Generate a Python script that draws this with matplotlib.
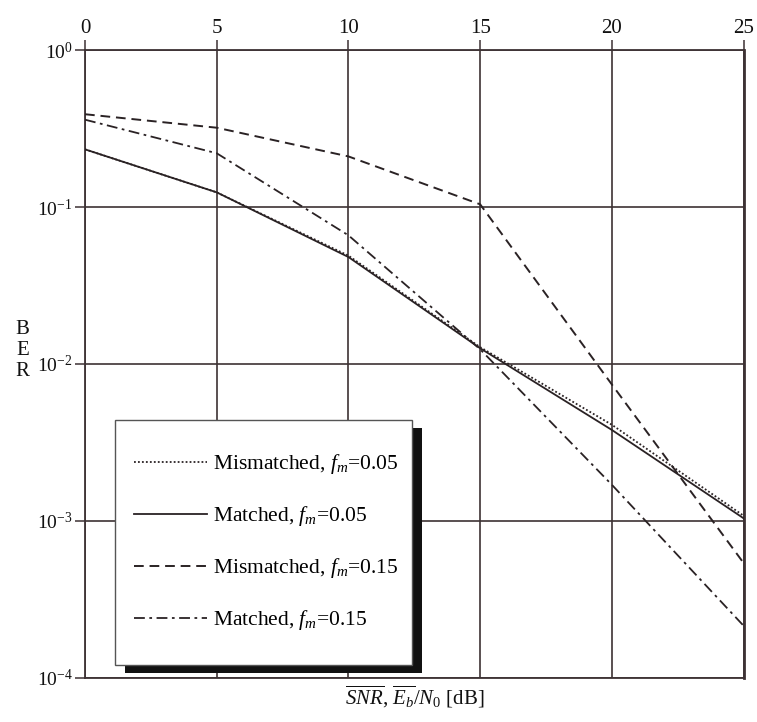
import matplotlib
matplotlib.use("Agg")
import matplotlib.pyplot as plt
from matplotlib.patches import Rectangle

plt.rcParams["font.family"] = ["Liberation Serif", "DejaVu Serif"]
plt.rcParams["mathtext.fontset"] = "custom"
plt.rcParams["mathtext.rm"] = "Liberation Serif"
plt.rcParams["mathtext.it"] = "Liberation Serif:italic"
plt.rcParams["mathtext.bf"] = "Liberation Serif:bold"

# SNR / Eb/N0 in dB
snr_db = [0, 5, 10, 15, 20, 25]

# BER curves
ber_mismatched_005 = [0.233, 0.124, 0.049, 0.0128, 0.0041, 0.00108]
ber_matched_005 = [0.233, 0.124, 0.048, 0.0126, 0.0038, 0.00104]
ber_mismatched_015 = [0.39, 0.32, 0.21, 0.104, 0.0074, 0.00054]
ber_matched_015 = [0.36, 0.22, 0.066, 0.0124, 0.0017, 0.000215]

labels = [
    r"Mismatched, $f_m$=0.05",
    r"Matched, $f_m$=0.05",
    r"Mismatched, $f_m$=0.15",
    r"Matched, $f_m$=0.15",
]

x_ticks = [0, 5, 10, 15, 20, 25]
y_ticks = [1e-4, 1e-3, 1e-2, 1e-1, 1e0]

ink = "#2a2224"
grid_col = "#3d3234"

fig = plt.figure(figsize=(7.57, 7.22), dpi=100)
ax = fig.add_axes([0.1123, 0.061, 0.870, 0.8697])

ax.set_yscale("log")
ax.set_xlim(0, 25)
ax.set_ylim(1e-4, 1e0)

styles = [
    dict(linestyle=(0, (1, 1.2)), lw=1.3),
    dict(linestyle="-", lw=1.3),
    dict(linestyle=(0, (5, 3)), lw=1.4),
    dict(linestyle=(0, (6, 2.5, 1.5, 2.5)), lw=1.3),
]
series = [ber_mismatched_005, ber_matched_005, ber_mismatched_015, ber_matched_015]

handles = []
for ys, st, lab in zip(series, styles, labels):
    ln, = ax.plot(snr_db, ys, color=ink, label=lab, zorder=3, **st)
    handles.append(ln)

ax.set_xticks(x_ticks)
ax.set_yticks(y_ticks)
ax.minorticks_off()
ax.xaxis.tick_top()
ax.tick_params(axis="both", direction="out", length=7, width=1.1,
               color=grid_col, labelsize=14, labelcolor="#111111", pad=2)
ax.tick_params(axis="x", labelsize=15)
ax.grid(True, which="major", color=grid_col, lw=1.2)
for s in ax.spines.values():
    s.set_color(grid_col)
    s.set_linewidth(1.3)
ax.spines["right"].set_linewidth(2.0)

ax.xaxis.set_label_position("bottom")
ax.set_xlabel(r"$\overline{SNR}$, $\overline{E_b}/N_0$ [dB]", fontsize=15,
              labelpad=4, color="#111111")

fig.text(0.03, 0.515, "B\nE\nR", fontsize=15, ha="center", va="center",
         linespacing=1.15, color="#111111")

# Legend box with a heavy drop shadow
bx0, bx1 = 0.045, 0.496
by0, by1 = 0.021, 0.411
sh = Rectangle((bx0 + 0.016, by0 - 0.013), bx1 - bx0, by1 - by0,
               transform=ax.transAxes, facecolor="#111111", edgecolor="none",
               zorder=5)
box = Rectangle((bx0, by0), bx1 - bx0, by1 - by0, transform=ax.transAxes,
                facecolor="white", edgecolor="#555555", lw=1.0, zorder=6)
ax.add_patch(sh)
ax.add_patch(box)

leg = ax.legend(handles=handles, loc="center left",
                bbox_to_anchor=(0.058, 0.216), frameon=False, fontsize=15.5,
                handlelength=3.4, handletextpad=0.25, labelspacing=1.3,
                borderpad=0)
leg.set_zorder(7)

fig.savefig("out.png", dpi=100, facecolor="white")
